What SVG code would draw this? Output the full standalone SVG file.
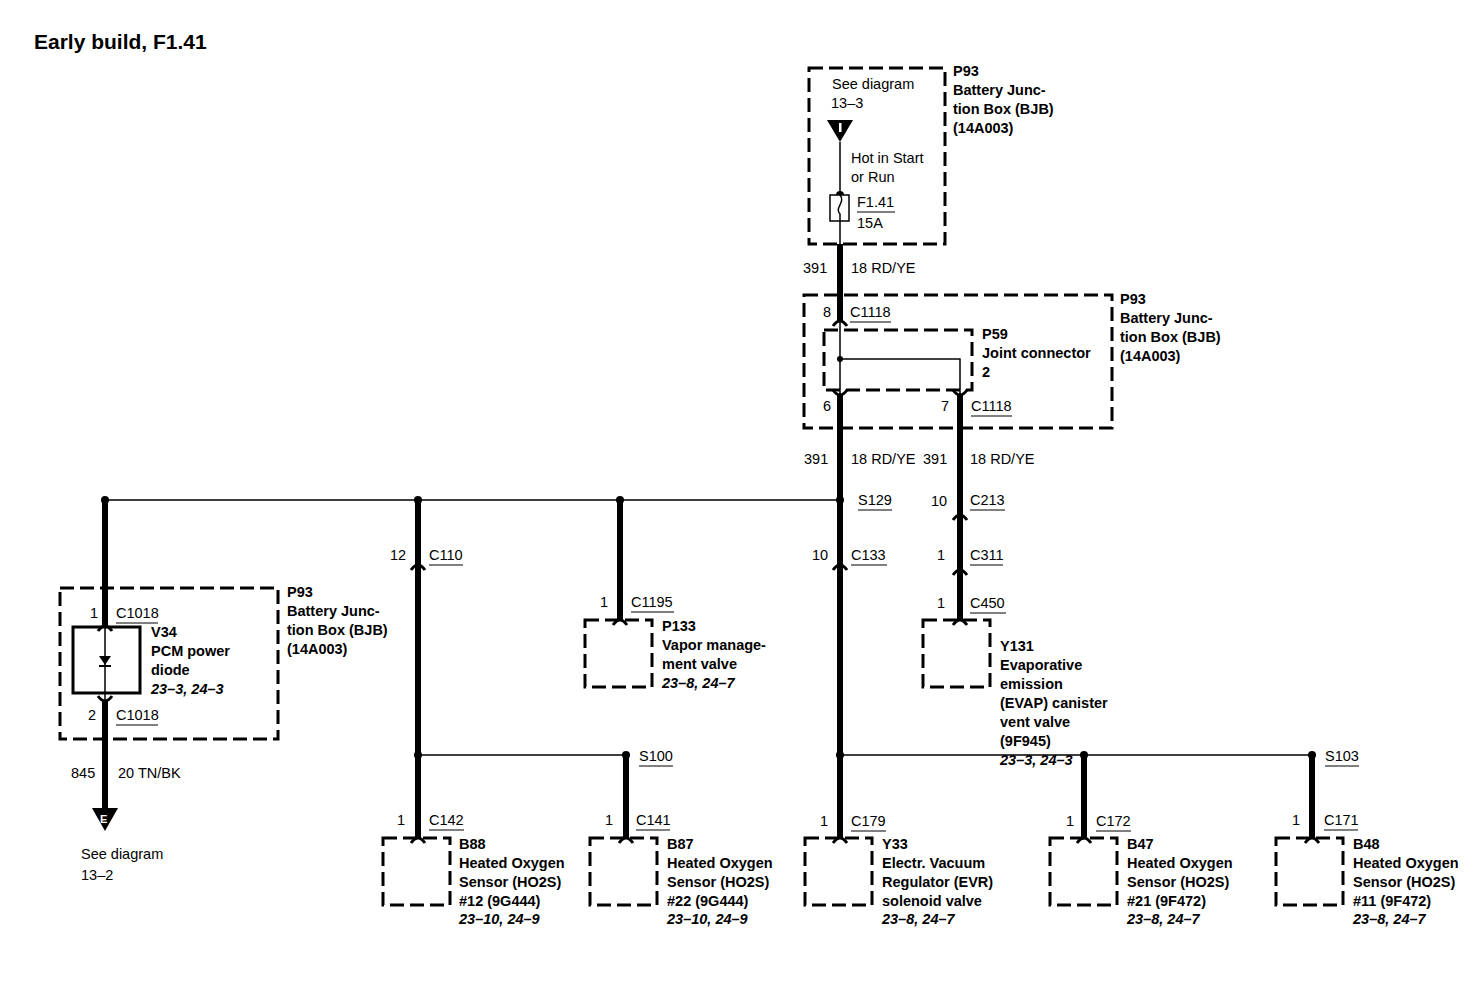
<svg xmlns="http://www.w3.org/2000/svg" width="1472" height="992" viewBox="0 0 1472 992">
<style>
text{font-family:"Liberation Sans",Arial,sans-serif;font-size:14.5px;fill:#000}
.b{font-weight:bold}
.i{font-weight:bold;font-style:italic}
.t{font-weight:bold;font-size:21px}
.dash{fill:none;stroke:#000;stroke-width:3;stroke-dasharray:14 6}
.thick{stroke:#000;stroke-width:6;fill:none}
.thin{stroke:#000;stroke-width:1.5;fill:none}
.ch{stroke:#000;stroke-width:3;fill:none}
.ul{stroke:#000;stroke-width:1}
</style>
<rect width="1472" height="992" fill="#fff"/>
<text x="34" y="49" class="t">Early build, F1.41</text>
<g id="connectors">
<path class="thin" d="M840 142V195M840 221V244M840 321V395M840 359H960V395M105 500H840M418 755H626M840 755H1312"/>
<path class="thick" d="M840 244V321M840 395V838M960 395V620M105 500V626M105 701V810M418 500V838M626 755V838M620 500V620M1084 755V838M1312 755V838"/>
<path class="thin" d="M105 626V701"/>
<g fill="#000"><circle cx="840" cy="195" r="4"/><circle cx="840" cy="359" r="3"/><circle cx="105" cy="500" r="4"/><circle cx="418" cy="500" r="4"/><circle cx="620" cy="500" r="4"/><circle cx="840" cy="500" r="4"/><circle cx="418" cy="755" r="4"/><circle cx="626" cy="755" r="4"/><circle cx="840" cy="755" r="4"/><circle cx="1084" cy="755" r="4"/><circle cx="1312" cy="755" r="4"/></g>
<path class="ch" d="M833 326Q840 316 847 326M833 390Q840 400 847 390M953 390Q960 400 967 390M98 631Q105 621 112 631M98 696Q105 706 112 696M953 520Q960 510 967 520M953 575Q960 565 967 575M953 625Q960 615 967 625M411 570Q418 560 425 570M833 570Q840 560 847 570M613 625Q620 615 627 625M411 843Q418 833 425 843M619 843Q626 833 633 843M833 843Q840 833 847 843M1077 843Q1084 833 1091 843M1305 843Q1312 833 1319 843"/>
</g>
<g id="p93-top">
<rect class="dash" x="809" y="68" width="136" height="176"/>
<path d="M827 120H853L840 142Z" fill="#000"/><rect x="839" y="123" width="2.5" height="9" fill="#fff"/>
<rect x="830" y="195" width="19" height="26" fill="#fff" stroke="#000" stroke-width="1.5"/>
<path class="thin" d="M840 195C846 202 834 208 840 214V221"/>
<text x="832" y="89">See diagram</text><text x="831" y="108">13–3</text>
<text x="851" y="163">Hot in Start</text><text x="851" y="182">or Run</text>
<text x="857" y="207">F1.41</text><line class="ul" x1="857" y1="212" x2="895" y2="212"/><text x="857" y="228">15A</text>
<text x="953" y="76" class="b">P93</text><text x="953" y="95" class="b">Battery Junc-</text><text x="953" y="114" class="b">tion Box (BJB)</text><text x="953" y="133" class="b">(14A003)</text>
<text x="803" y="273">391</text><text x="851" y="273">18 RD/YE</text>
</g>
<g id="p93-mid">
<rect class="dash" x="804" y="295" width="308" height="133"/>
<rect class="dash" x="824" y="330" width="148" height="60"/>
<text x="823" y="317">8</text><text x="850" y="317">C1118</text><line class="ul" x1="850" y1="322" x2="891" y2="322"/>
<text x="823" y="411">6</text><text x="941" y="411">7</text><text x="971" y="411">C1118</text><line class="ul" x1="971" y1="416" x2="1012" y2="416"/>
<text x="982" y="339" class="b">P59</text><text x="982" y="358" class="b">Joint connector</text><text x="982" y="377" class="b">2</text>
<text x="1120" y="304" class="b">P93</text><text x="1120" y="323" class="b">Battery Junc-</text><text x="1120" y="342" class="b">tion Box (BJB)</text><text x="1120" y="361" class="b">(14A003)</text>
<text x="804" y="464">391</text><text x="851" y="464">18 RD/YE</text><text x="923" y="464">391</text><text x="970" y="464">18 RD/YE</text>
<text x="858" y="505">S129</text><line class="ul" x1="858" y1="510" x2="892" y2="510"/>
</g>
<g id="evap">
<text x="931" y="506">10</text><text x="970" y="505">C213</text><line class="ul" x1="970" y1="510" x2="1005" y2="510"/>
<text x="937" y="560">1</text><text x="970" y="560">C311</text><line class="ul" x1="970" y1="565" x2="1003" y2="565"/>
<text x="937" y="608">1</text><text x="970" y="608">C450</text><line class="ul" x1="970" y1="613" x2="1006" y2="613"/>
<rect class="dash" x="923" y="620" width="67" height="67"/>
<text x="1000" y="651" class="b">Y131</text><text x="1000" y="670" class="b">Evaporative</text><text x="1000" y="689" class="b">emission</text><text x="1000" y="708" class="b">(EVAP) canister</text><text x="1000" y="727" class="b">vent valve</text><text x="1000" y="746" class="b">(9F945)</text><text x="1000" y="744" class="i" dy="21">23–3, 24–3</text>
</g>
<g id="v34">
<rect class="dash" x="60" y="588" width="218" height="151"/>
<rect x="73" y="627" width="67" height="66" fill="none" stroke="#000" stroke-width="3"/>
<path d="M99 656H111L105 665Z" fill="#000"/><line x1="99" y1="666" x2="111" y2="666" stroke="#000" stroke-width="2"/>
<text x="90" y="618">1</text><text x="116" y="618">C1018</text><line class="ul" x1="116" y1="623" x2="158" y2="623"/>
<text x="88" y="720">2</text><text x="116" y="720">C1018</text><line class="ul" x1="116" y1="725" x2="158" y2="725"/>
<text x="151" y="637" class="b">V34</text><text x="151" y="656" class="b">PCM power</text><text x="151" y="675" class="b">diode</text><text x="151" y="694" class="i">23–3, 24–3</text>
<text x="287" y="597" class="b">P93</text><text x="287" y="616" class="b">Battery Junc-</text><text x="287" y="635" class="b">tion Box (BJB)</text><text x="287" y="654" class="b">(14A003)</text>
<text x="71" y="778">845</text><text x="118" y="778">20 TN/BK</text>
<path d="M92 808H118L105 831Z" fill="#000"/><text x="100" y="823" style="fill:#fff;font-weight:bold;font-size:11px">E</text>
<text x="81" y="859">See diagram</text><text x="81" y="880">13–2</text>
</g>
<g id="p133">
<text x="390" y="560">12</text><text x="429" y="560">C110</text><line class="ul" x1="429" y1="565" x2="463" y2="565"/>
<text x="600" y="607">1</text><text x="631" y="607">C1195</text><line class="ul" x1="631" y1="612" x2="674" y2="612"/>
<rect class="dash" x="585" y="620" width="67" height="67"/>
<text x="662" y="631" class="b">P133</text><text x="662" y="650" class="b">Vapor manage-</text><text x="662" y="669" class="b">ment valve</text><text x="662" y="688" class="i">23–8, 24–7</text>
<text x="812" y="560">10</text><text x="851" y="560">C133</text><line class="ul" x1="851" y1="565" x2="887" y2="565"/>
<text x="639" y="761">S100</text><line class="ul" x1="639" y1="766" x2="673" y2="766"/>
<text x="1325" y="761">S103</text><line class="ul" x1="1325" y1="766" x2="1359" y2="766"/>
</g>
<g id="b88">
<text x="397" y="825">1</text><text x="429" y="825">C142</text><line class="ul" x1="429" y1="830" x2="464" y2="830"/>
<rect class="dash" x="383" y="838" width="67" height="67"/>
<text x="459" y="849" class="b">B88</text><text x="459" y="868" class="b">Heated Oxygen</text><text x="459" y="887" class="b">Sensor (HO2S)</text><text x="459" y="906" class="b">#12 (9G444)</text><text x="459" y="924" class="i">23–10, 24–9</text>
</g>
<g id="b87">
<text x="605" y="825">1</text><text x="636" y="825">C141</text><line class="ul" x1="636" y1="830" x2="670" y2="830"/>
<rect class="dash" x="590" y="838" width="67" height="67"/>
<text x="667" y="849" class="b">B87</text><text x="667" y="868" class="b">Heated Oxygen</text><text x="667" y="887" class="b">Sensor (HO2S)</text><text x="667" y="906" class="b">#22 (9G444)</text><text x="667" y="924" class="i">23–10, 24–9</text>
</g>
<g id="y33">
<text x="820" y="826">1</text><text x="851" y="826">C179</text><line class="ul" x1="851" y1="831" x2="886" y2="831"/>
<rect class="dash" x="805" y="838" width="67" height="67"/>
<text x="882" y="849" class="b">Y33</text><text x="882" y="868" class="b">Electr. Vacuum</text><text x="882" y="887" class="b">Regulator (EVR)</text><text x="882" y="906" class="b">solenoid valve</text><text x="882" y="924" class="i">23–8, 24–7</text>
</g>
<g id="b47">
<text x="1066" y="826">1</text><text x="1096" y="826">C172</text><line class="ul" x1="1096" y1="831" x2="1131" y2="831"/>
<rect class="dash" x="1050" y="838" width="67" height="67"/>
<text x="1127" y="849" class="b">B47</text><text x="1127" y="868" class="b">Heated Oxygen</text><text x="1127" y="887" class="b">Sensor (HO2S)</text><text x="1127" y="906" class="b">#21 (9F472)</text><text x="1127" y="924" class="i">23–8, 24–7</text>
</g>
<g id="b48">
<text x="1292" y="825">1</text><text x="1324" y="825">C171</text><line class="ul" x1="1324" y1="830" x2="1358" y2="830"/>
<rect class="dash" x="1276" y="838" width="67" height="67"/>
<text x="1353" y="849" class="b">B48</text><text x="1353" y="868" class="b">Heated Oxygen</text><text x="1353" y="887" class="b">Sensor (HO2S)</text><text x="1353" y="906" class="b">#11 (9F472)</text><text x="1353" y="924" class="i">23–8, 24–7</text>
</g>
</svg>
